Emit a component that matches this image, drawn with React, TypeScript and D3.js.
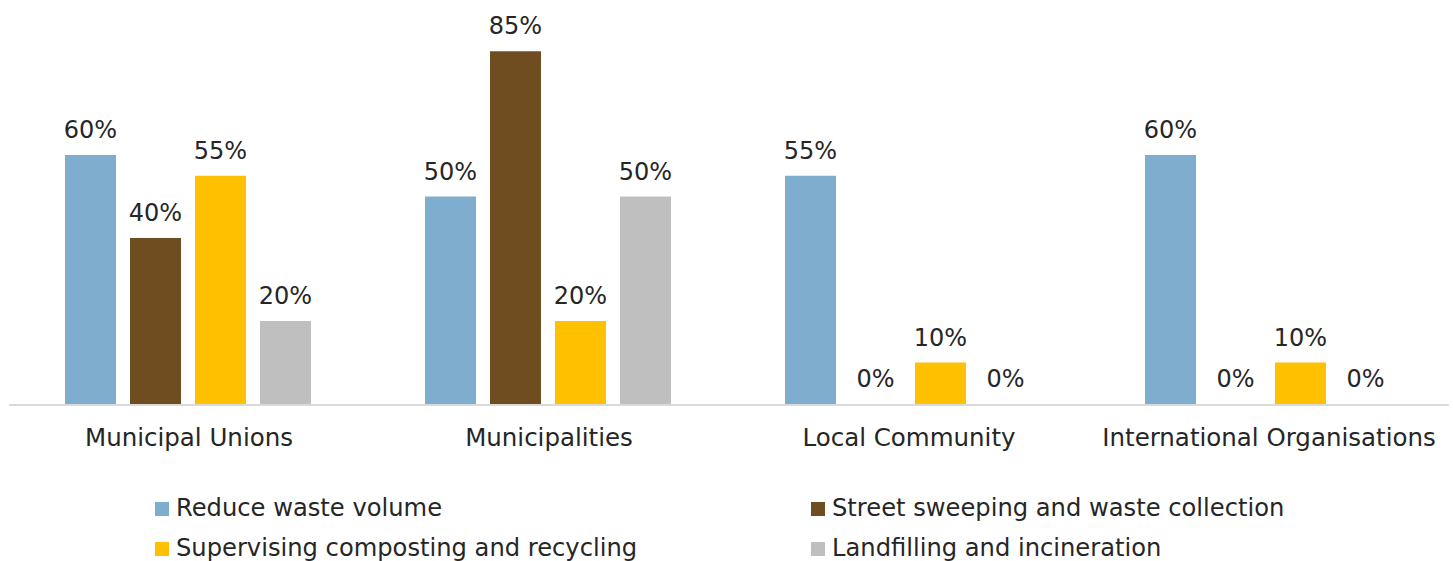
import React from "react";
import * as d3 from "d3";

const categories = ["Municipal Unions", "Municipalities", "Local Community", "International Organisations"];
const seriesNames = [
  "Reduce waste volume",
  "Street sweeping and waste collection",
  "Supervising composting and recycling",
  "Landfilling and incineration",
];
const reduceWaste = [0.6, 0.5, 0.55, 0.6];
const streetSweeping = [0.4, 0.85, 0, 0];
const composting = [0.55, 0.2, 0.1, 0.1];
const landfilling = [0.2, 0.5, 0, 0];
const colors = ["#7FADCD", "#704D20", "#FFC000", "#BFBFBF"];

const W = 1453;
const H = 561;
const FONT = "'DejaVu Sans', sans-serif";

export default function App() {
  const series = [reduceWaste, streetSweeping, composting, landfilling];
  const x0 = d3.scaleBand<string>().domain(categories).range([9, 1449]).paddingInner(0).paddingOuter(0);
  const x1 = d3
    .scaleBand<number>()
    .domain([0, 1, 2, 3])
    .range([56, 56 + 246])
    .paddingInner(14 / 65)
    .paddingOuter(0);
  const y = d3.scaleLinear().domain([0, 1]).range([404, -11]);
  const fmt = d3.format(".0%");

  const legendPos = [
    { x: 155, y: 516, sy: 502 },
    { x: 811, y: 516, sy: 502 },
    { x: 155, y: 556, sy: 542 },
    { x: 811, y: 556, sy: 542 },
  ];

  return (
    <svg width={W} height={H} style={{ position: "absolute", left: 0, top: 0, background: "#fff" }}>
      {categories.map((c, ci) => (
        <g key={c} transform={`translate(${x0(c)},0)`}>
          {series.map((s, si) => {
            const v = s[ci];
            const bx = x1(si)!;
            const bw = x1.bandwidth();
            return (
              <g key={si}>
                {v > 0 && (
                  <rect x={bx} y={y(v)} width={bw} height={y(0) - y(v)} fill={colors[si]} />
                )}
                <text
                  x={bx + bw / 2}
                  y={y(v) - 17}
                  textAnchor="middle"
                  fontFamily={FONT}
                  fontSize={24}
                  fill="#262626"
                >
                  {fmt(v)}
                </text>
              </g>
            );
          })}
          <text
            x={x0.bandwidth() / 2}
            y={446}
            textAnchor="middle"
            fontFamily={FONT}
            fontSize={24.5}
            fill="#262626"
          >
            {c}
          </text>
        </g>
      ))}
      <line x1={9} x2={1449} y1={y(0) + 1} y2={y(0) + 1} stroke="#D9D9D9" strokeWidth={2} />
      {seriesNames.map((n, i) => (
        <g key={n}>
          <rect x={legendPos[i].x} y={legendPos[i].sy} width={14} height={14} fill={colors[i]} />
          <text x={legendPos[i].x + 21} y={legendPos[i].y} fontFamily={FONT} fontSize={24.2} fill="#262626">
            {n}
          </text>
        </g>
      ))}
    </svg>
  );
}
